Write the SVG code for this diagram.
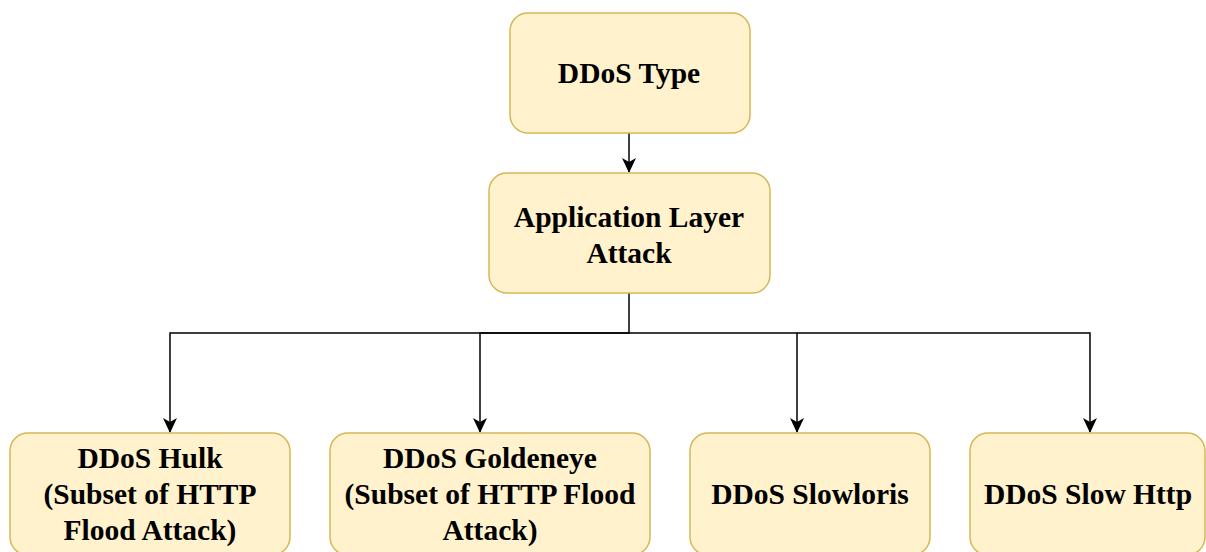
<svg xmlns="http://www.w3.org/2000/svg" width="1206" height="552" viewBox="0 0 1206 552">
<style>
.box{fill:#fff2cc;stroke:#d6b656;stroke-width:1.5}
.t{font-family:"Liberation Serif","Times New Roman",serif;font-weight:bold;font-size:29.5px;fill:#000;text-anchor:middle}
.c{fill:none;stroke:#000;stroke-width:1.5}
</style>
<defs>
<marker id="arr" markerWidth="16" markerHeight="14" refX="14" refY="7" orient="auto" markerUnits="userSpaceOnUse">
<path d="M0,0 L15,7 L0,14 L4,7 Z" fill="#000"/>
</marker>
</defs>
<rect width="1206" height="552" fill="#fff"/>
<g id="connectors">
<path class="c" d="M629,133 V172" marker-end="url(#arr)"/>
<path class="c" d="M629,293 V333 H170 V432" marker-end="url(#arr)"/>
<path class="c" d="M629,333 H480 V432" marker-end="url(#arr)"/>
<path class="c" d="M629,333 H797 V432" marker-end="url(#arr)"/>
<path class="c" d="M797,333 H1090 V432" marker-end="url(#arr)"/>
</g>
<g id="node-ddos-type">
<rect class="box" x="510" y="13" width="240" height="120" rx="18"/>
<text class="t" x="629" y="83">DDoS Type</text>
</g>
<g id="node-app-layer">
<rect class="box" x="489" y="173" width="281" height="120" rx="18"/>
<text class="t" x="629" y="227">Application Layer</text>
<text class="t" x="629" y="263">Attack</text>
</g>
<g id="node-hulk">
<rect class="box" x="10" y="433" width="280" height="122" rx="18"/>
<text class="t" x="150" y="468">DDoS Hulk</text>
<text class="t" x="150" y="504">(Subset of HTTP</text>
<text class="t" x="150" y="540">Flood Attack)</text>
</g>
<g id="node-goldeneye">
<rect class="box" x="330" y="433" width="320" height="122" rx="18"/>
<text class="t" x="490" y="468">DDoS Goldeneye</text>
<text class="t" x="490" y="504">(Subset of HTTP Flood</text>
<text class="t" x="490" y="540">Attack)</text>
</g>
<g id="node-slowloris">
<rect class="box" x="690" y="433" width="240" height="122" rx="18"/>
<text class="t" x="810" y="504">DDoS Slowloris</text>
</g>
<g id="node-slowhttp">
<rect class="box" x="970" y="433" width="235" height="122" rx="18"/>
<text class="t" x="1088" y="504">DDoS Slow Http</text>
</g>
</svg>
